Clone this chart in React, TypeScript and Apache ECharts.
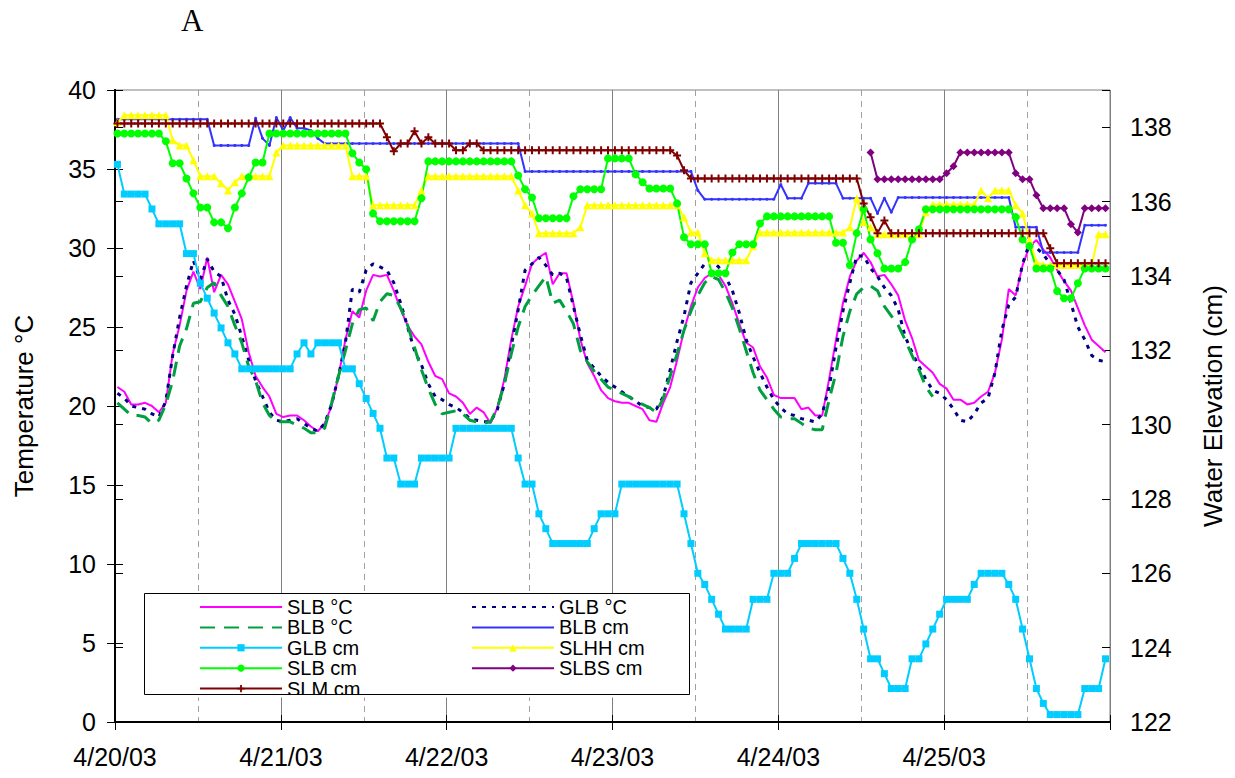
import React, { useEffect, useRef } from 'react';
import * as echarts from 'echarts';

// ---------- data (hourly readings starting 4/20/03 00:00) ----------
const dayLabels = ['4/20/03', '4/21/03', '4/22/03', '4/23/03', '4/24/03', '4/25/03'];
const tempTicks = [0, 5, 10, 15, 20, 25, 30, 35, 40];
const elevTicks = [122, 124, 126, 128, 130, 132, 134, 136, 138];
const HOUR_OFFSET = 0.35; // loggers record a little after the hour

// temperatures (°C)
const slbTemp = [
  21.2, 20.9, 20.1, 20.1, 20.2, 20.0, 19.6, 20.2, 23.3, 25.1, 27.3, 28.5,
  27.4, 29.4, 27.2, 28.3, 27.7, 26.6, 25.5, 23.4, 21.9, 21.2, 20.6, 19.5,
  19.3, 19.4, 19.4, 19.1, 18.7, 18.4, 18.9, 20.0, 21.9, 24.2, 26.0, 25.6,
  27.3, 28.3, 28.2, 28.3, 27.3, 26.1, 25.1, 24.4, 23.9, 22.8, 21.9, 21.7,
  20.8, 20.6, 20.2, 19.5, 19.9, 19.6, 18.9, 19.9, 21.7, 24.2, 26.3, 27.6,
  29.0, 29.4, 29.7, 27.7, 28.4, 28.4, 26.5, 24.2, 22.7, 21.9, 21.0, 20.5,
  20.3, 20.2, 20.2, 20.0, 19.8, 19.1, 19.0, 20.2, 21.2, 22.9, 24.8, 26.3,
  27.5, 28.1, 28.4, 28.3, 27.6, 26.5, 25.2, 24.0, 23.7, 22.5, 21.8, 20.7,
  20.5, 20.5, 20.5, 19.8, 19.9, 19.4, 19.4, 21.7, 24.2, 26.5, 28.2, 29.2,
  29.7, 29.1, 28.2, 28.3, 27.7, 27.0, 25.4, 24.3, 22.9, 22.5, 22.1, 21.4,
  21.1, 20.4, 20.4, 20.1, 20.2, 20.6, 20.9, 22.1, 24.2, 27.4, 27.0, 28.9,
  30.1, 30.5, 29.9, 29.4, 28.6, 27.9, 27.3, 26.2, 25.1, 24.2, 23.8, 23.4,
];
const glbTemp = [
  20.8, 20.5, 20.0, 19.9, 19.8, 19.5, 19.3, 20.3, 23.2, 25.6, 27.6, 29.2,
  28.0, 29.3, 28.5, 28.2, 26.7, 25.8, 24.4, 22.9, 21.6, 20.6, 19.6, 19.1,
  19.0, 19.1, 19.2, 18.9, 18.6, 18.4, 18.9, 20.1, 21.9, 24.0, 27.4, 27.2,
  28.6, 29.0, 28.8, 28.6, 27.8, 26.5, 25.0, 23.5, 22.6, 21.4, 20.6, 20.4,
  20.1, 19.9, 19.6, 19.2, 19.1, 19.0, 19.0, 19.8, 21.4, 23.8, 26.1, 28.6,
  29.0, 29.4, 28.9, 28.3, 28.4, 28.1, 26.3, 24.5, 22.9, 22.4, 21.9, 21.5,
  21.2, 20.9, 20.6, 20.3, 20.0, 19.9, 19.8, 20.6, 22.3, 24.1, 25.7, 27.8,
  28.4, 29.0, 29.2, 28.8, 28.2, 27.3, 25.9, 24.2, 23.1, 22.1, 21.2, 20.4,
  19.9, 19.5, 19.4, 19.2, 19.1, 19.0, 19.5, 21.2, 23.7, 26.0, 27.8, 29.5,
  29.5, 28.7, 28.2, 27.5, 27.0, 26.1, 24.4, 23.4, 22.5, 21.7, 21.0, 20.8,
  20.4, 19.8, 19.1, 19.0, 19.5, 20.2, 20.5, 22.1, 24.8, 26.4, 26.9, 29.0,
  30.3, 30.0, 29.6, 29.0, 28.6, 28.0, 26.5, 25.0, 24.2, 23.2, 22.9, 22.8,
];
const blbTemp = [
  20.2, 19.8, 19.4, 19.4, 19.3, 18.9, 19.1, 20.1, 21.6, 23.8, 24.9, 26.5,
  26.6, 27.5, 27.8, 27.0, 26.3, 25.1, 24.0, 22.5, 21.6, 20.2, 19.4, 19.0,
  19.0, 19.0, 18.8, 18.6, 18.3, 18.3, 18.6, 20.2, 21.9, 23.5, 25.2, 26.1,
  26.2, 25.4, 26.6, 27.1, 27.0, 26.2, 25.1, 23.7, 22.3, 21.1, 20.1, 19.5,
  19.6, 19.7, 19.5, 19.1, 19.0, 18.9, 19.0, 19.9, 21.4, 23.3, 25.0, 26.3,
  27.0, 27.6, 28.2, 26.5, 26.7, 26.0, 25.2, 23.5, 22.8, 22.2, 21.7, 21.2,
  21.0, 20.8, 20.6, 20.3, 20.1, 19.9, 19.6, 20.5, 21.9, 23.3, 24.8, 26.0,
  27.0, 27.8, 28.2, 28.0, 27.2, 26.2, 24.9, 23.5, 22.1, 21.0, 20.4, 19.8,
  19.3, 19.2, 19.2, 18.9, 18.6, 18.5, 18.5, 20.4, 22.1, 24.4, 26.0, 27.1,
  27.5, 27.6, 27.3, 26.3, 25.7, 25.1, 24.2, 23.2, 22.3, 21.2, 20.6,
];

// water elevations (cm)
const blbElev = [
  138.21, 138.21, 138.21, 138.21, 138.21, 138.21, 138.21, 138.21, 138.21, 138.21, 138.21, 138.21,
  138.21, 138.21, 137.51, 137.51, 137.51, 137.51, 137.51, 137.51, 138.24, 137.70, 137.51, 138.26,
  137.91, 138.26, 137.97, 137.97, 137.91, 137.70, 137.56, 137.56, 137.56, 137.56, 137.56, 137.56,
  137.56, 137.56, 137.56, 137.56, 137.56, 137.56, 137.56, 137.56, 137.56, 137.56, 137.56, 137.56,
  137.56, 137.56, 137.56, 137.56, 137.56, 137.56, 137.56, 137.56, 137.56, 137.56, 137.56, 136.81,
  136.81, 136.81, 136.81, 136.81, 136.81, 136.81, 136.81, 136.81, 136.81, 136.81, 136.81, 136.81,
  136.81, 136.81, 136.81, 136.81, 136.81, 136.81, 136.81, 136.81, 136.81, 136.81, 136.81, 136.81,
  136.30, 136.06, 136.06, 136.06, 136.06, 136.06, 136.06, 136.06, 136.06, 136.06, 136.06, 136.06,
  136.46, 136.09, 136.09, 136.09, 136.49, 136.49, 136.49, 136.49, 136.49, 136.09, 136.09, 136.09,
  136.09, 136.09, 135.68, 136.09, 135.71, 136.11, 136.11, 136.11, 136.11, 136.11, 136.11, 136.11,
  136.11, 136.11, 136.11, 136.11, 136.11, 136.11, 136.11, 136.11, 136.11, 136.11, 135.31, 135.31,
  135.31, 135.31, 134.63, 134.63, 134.63, 134.63, 134.63, 134.63, 135.36, 135.36, 135.36, 135.36,
];
const glbElev = [
  137.0, 136.2, 136.2, 136.2, 136.2, 135.8, 135.4, 135.4, 135.4, 135.4, 134.6, 134.6,
  133.8, 133.4, 133.0, 132.6, 132.2, 131.9, 131.5, 131.5, 131.5, 131.5, 131.5, 131.5,
  131.5, 131.5, 131.9, 132.2, 131.9, 132.2, 132.2, 132.2, 132.2, 131.5, 131.5, 131.1,
  130.7, 130.3, 129.9, 129.1, 129.1, 128.4, 128.4, 128.4, 129.1, 129.1, 129.1, 129.1,
  129.1, 129.9, 129.9, 129.9, 129.9, 129.9, 129.9, 129.9, 129.9, 129.9, 129.1, 128.4,
  128.4, 127.6, 127.2, 126.8, 126.8, 126.8, 126.8, 126.8, 126.8, 127.2, 127.6, 127.6,
  127.6, 128.4, 128.4, 128.4, 128.4, 128.4, 128.4, 128.4, 128.4, 128.4, 127.6, 126.8,
  126.0, 125.7, 125.3, 124.9, 124.5, 124.5, 124.5, 124.5, 125.3, 125.3, 125.3, 126.0,
  126.0, 126.0, 126.4, 126.8, 126.8, 126.8, 126.8, 126.8, 126.8, 126.4, 126.0, 125.3,
  124.5, 123.7, 123.7, 123.3, 122.9, 122.9, 122.9, 123.7, 123.7, 124.1, 124.5, 124.9,
  125.3, 125.3, 125.3, 125.3, 125.7, 126.0, 126.0, 126.0, 126.0, 125.7, 125.3, 124.5,
  123.7, 122.9, 122.5, 122.2, 122.2, 122.2, 122.2, 122.2, 122.9, 122.9, 122.9, 123.7,
];
const slhhElev = [
  138.13, 138.32, 138.32, 138.32, 138.32, 138.32, 138.32, 138.32, 137.65, 137.51, 137.51, 137.11,
  136.68, 136.68, 136.68, 136.49, 136.30, 136.52, 136.68, 136.68, 136.68, 136.68, 136.68, 137.32,
  137.51, 137.51, 137.51, 137.51, 137.51, 137.51, 137.51, 137.51, 137.51, 137.51, 136.68, 136.68,
  136.68, 135.90, 135.90, 135.90, 135.90, 135.90, 135.90, 135.90, 136.30, 136.68, 136.68, 136.68,
  136.68, 136.68, 136.68, 136.68, 136.68, 136.68, 136.68, 136.68, 136.68, 136.68, 136.30, 135.90,
  135.68, 135.15, 135.15, 135.15, 135.15, 135.15, 135.15, 135.31, 135.90, 135.90, 135.90, 135.90,
  135.90, 135.90, 135.90, 135.90, 135.90, 135.90, 135.90, 135.90, 135.90, 135.90, 135.58, 135.17,
  135.17, 134.61, 134.42, 134.42, 134.42, 134.42, 134.42, 134.42, 134.80, 135.17, 135.17, 135.17,
  135.17, 135.17, 135.17, 135.17, 135.17, 135.17, 135.17, 135.17, 135.17, 135.17, 135.31, 136.09,
  135.44, 135.31, 135.12, 135.12, 135.12, 135.12, 135.12, 135.12, 135.12, 135.71, 135.92, 135.92,
  135.92, 135.92, 135.92, 135.92, 135.92, 136.30, 136.09, 136.30, 136.30, 136.30, 135.90, 135.68,
  134.96, 134.37, 134.29, 134.29, 134.29, 134.29, 134.29, 134.29, 134.29, 134.29, 135.12, 135.12,
];
const slbElev = [
  137.83, 137.83, 137.83, 137.83, 137.83, 137.83, 137.83, 137.62, 137.03, 137.03, 136.62, 136.22,
  135.84, 135.84, 135.44, 135.44, 135.28, 135.84, 136.22, 136.65, 137.05, 137.05, 137.83, 137.83,
  137.83, 137.83, 137.83, 137.83, 137.83, 137.83, 137.83, 137.83, 137.83, 137.83, 137.30, 137.05,
  136.87, 135.68, 135.47, 135.47, 135.47, 135.47, 135.47, 135.47, 136.09, 137.08, 137.08, 137.08,
  137.08, 137.08, 137.08, 137.08, 137.08, 137.08, 137.08, 137.08, 137.08, 137.08, 136.70, 136.33,
  136.11, 135.55, 135.55, 135.55, 135.55, 135.55, 136.14, 136.33, 136.33, 136.33, 136.33, 137.16,
  137.16, 137.16, 137.16, 136.73, 136.52, 136.35, 136.35, 136.35, 136.35, 135.95, 135.04, 134.85,
  134.85, 134.85, 134.07, 134.07, 134.07, 134.63, 134.85, 134.85, 134.85, 135.41, 135.60, 135.60,
  135.60, 135.60, 135.60, 135.60, 135.60, 135.60, 135.60, 135.60, 134.89, 134.89, 134.29, 135.15,
  135.79, 134.98, 134.61, 134.20, 134.20, 134.20, 134.37, 134.98, 135.25, 135.79, 135.79, 135.79,
  135.79, 135.79, 135.79, 135.79, 135.79, 135.79, 135.79, 135.79, 135.79, 135.79, 135.58, 134.98,
  134.80, 134.20, 134.20, 134.20, 133.59, 133.40, 133.40, 133.80, 134.20, 134.20, 134.20, 134.20,
];
const SLBS_START_HOUR = 109;
const slbsElev = [
  137.32, 136.60, 136.60, 136.60, 136.60, 136.60, 136.60, 136.60, 136.60, 136.60, 136.60,
  136.76, 136.95, 137.32, 137.32, 137.32, 137.32, 137.32, 137.32, 137.32, 137.32, 136.76, 136.60,
  136.60, 136.17, 135.82, 135.82, 135.82, 135.82, 135.39, 135.17, 135.82, 135.82, 135.82, 135.82,
];
const slmElev = [
  138.10, 138.10, 138.10, 138.10, 138.10, 138.10, 138.10, 138.10, 138.10, 138.10, 138.10, 138.10,
  138.10, 138.10, 138.10, 138.10, 138.10, 138.10, 138.10, 138.10, 138.10, 138.10, 138.10, 138.10,
  138.10, 138.10, 138.10, 138.10, 138.10, 138.10, 138.10, 138.10, 138.10, 138.10, 138.10, 138.10,
  138.10, 138.10, 138.10, 137.73, 137.35, 137.56, 137.56, 137.89, 137.56, 137.73, 137.56, 137.56,
  137.56, 137.38, 137.38, 137.56, 137.56, 137.38, 137.38, 137.38, 137.38, 137.38, 137.38, 137.38,
  137.38, 137.38, 137.38, 137.38, 137.38, 137.38, 137.38, 137.38, 137.38, 137.38, 137.38, 137.38,
  137.38, 137.38, 137.38, 137.38, 137.38, 137.38, 137.38, 137.38, 137.38, 137.24, 136.84, 136.62,
  136.62, 136.62, 136.62, 136.62, 136.62, 136.62, 136.62, 136.62, 136.62, 136.62, 136.62, 136.62,
  136.62, 136.62, 136.62, 136.62, 136.62, 136.62, 136.62, 136.62, 136.62, 136.62, 136.62, 136.62,
  135.95, 135.58, 135.15, 135.49, 135.15, 135.15, 135.15, 135.15, 135.15, 135.15, 135.15, 135.15,
  135.15, 135.15, 135.15, 135.15, 135.15, 135.15, 135.15, 135.15, 135.15, 135.15, 135.15, 135.15,
  135.15, 135.15, 135.15, 134.74, 134.34, 134.34, 134.34, 134.34, 134.34, 134.34, 134.34, 134.34,
];

const legendCol1 = ['SLB °C', 'BLB °C', 'GLB cm', 'SLB cm', 'SLM cm'];
const legendCol2 = ['GLB °C', 'BLB cm', 'SLHH cm', 'SLBS cm'];
const plainLegendLines = ['SLB °C', 'BLB °C', 'GLB °C', 'BLB cm'];

// ---------- helpers ----------
const toPoints = (vals: number[], startHour = 0) =>
  vals.map((v, i) => [startHour + i + HOUR_OFFSET, v]);

const FONT = 'Liberation Sans, Arial, sans-serif';
const PLUS = 'path://M3,0 H5 V3 H8 V5 H5 V8 H3 V5 H0 V3 H3 Z';
const TICK_FS = 25;
const NAME_FS = 26;

export default function App() {
  const ref = useRef<HTMLDivElement>(null);

  useEffect(() => {
    if (!ref.current) return;
    const chart = echarts.init(ref.current, undefined, { renderer: 'svg' });

    const lineSeries = (
      name: string,
      data: number[][],
      yAxisIndex: number,
      color: string,
      opts: any = {}
    ) => ({
      name,
      type: 'line',
      data,
      yAxisIndex,
      xAxisIndex: 0,
      showSymbol: opts.symbol ? true : false,
      symbol: opts.symbol || 'none',
      symbolSize: opts.symbolSize || 6,
      itemStyle: { color },
      lineStyle: { color, width: opts.width || 2, type: opts.dash || 'solid' },
      emphasis: { disabled: true },
      silent: true,
    });

    const legendItems = (names: string[]) =>
      names.map((n) =>
        plainLegendLines.indexOf(n) >= 0 ? { name: n, itemStyle: { opacity: 0 } } : { name: n }
      );

    const legendBase = {
      orient: 'vertical',
      top: 592,
      itemWidth: 82,
      itemHeight: 9,
      itemGap: 0.4,
      selectedMode: false,
      textStyle: { fontFamily: FONT, fontSize: 20, color: '#000', lineHeight: 20 },
    };

    const dayMax = dayLabels.length * 24;

    const option: any = {
      animation: false,
      backgroundColor: '#ffffff',
      title: {
        text: 'A',
        left: 176,
        top: 0,
        textStyle: { fontFamily: 'Liberation Serif, Times New Roman, serif', fontSize: 31, fontWeight: 'normal', color: '#000' },
      },
      grid: {
        left: 115,
        right: 125,
        top: 90,
        bottom: 56,
        show: true,
        borderColor: '#808080',
        borderWidth: 1,
        backgroundColor: 'transparent',
      },
      xAxis: [
        {
          type: 'value',
          position: 'bottom',
          min: 0,
          max: dayMax,
          interval: 24,
          axisLine: { show: true, onZero: false, lineStyle: { color: '#000', width: 2 } },
          axisTick: { show: true, length: 8, lineStyle: { color: '#000', width: 1 } },
          minorTick: { show: false, splitNumber: 2 },
          minorSplitLine: { show: true, lineStyle: { color: '#a0a0a0', width: 1, type: [6, 5] } },
          splitLine: { show: true, lineStyle: { color: '#808080', width: 1 } },
          axisLabel: {
            fontFamily: FONT,
            fontSize: TICK_FS,
            color: '#000',
            margin: 22,
            formatter: (v: number) => dayLabels[Math.round(v / 24)] || '',
          },
        },
        {
          // inner half of the crossing tick marks
          type: 'value',
          position: 'bottom',
          min: 0,
          max: dayMax,
          interval: 24,
          axisLine: { show: false, onZero: false },
          axisTick: { show: true, inside: true, length: 7, lineStyle: { color: '#000', width: 1 } },
          axisLabel: { show: false },
          splitLine: { show: false },
        },
      ],
      yAxis: [
        {
          type: 'value',
          position: 'left',
          min: tempTicks[0],
          max: tempTicks[tempTicks.length - 1],
          interval: 5,
          name: 'Temperature °C',
          nameLocation: 'middle',
          nameGap: 78,
          nameTextStyle: { fontFamily: FONT, fontSize: NAME_FS, color: '#000' },
          axisLine: { show: true, lineStyle: { color: '#000', width: 2 } },
          axisTick: { show: true, length: 8, lineStyle: { color: '#000' } },
          axisLabel: { fontFamily: FONT, fontSize: TICK_FS, color: '#000', margin: 19 },
          splitLine: { show: false },
        },
        {
          type: 'value',
          position: 'right',
          min: elevTicks[0],
          max: 139,
          interval: 2,
          name: 'Water Elevation (cm)',
          nameLocation: 'middle',
          nameGap: 90,
          nameTextStyle: { fontFamily: FONT, fontSize: NAME_FS, color: '#000' },
          axisLine: { show: true, lineStyle: { color: '#000', width: 2 } },
          axisTick: { show: true, length: 8, lineStyle: { color: '#000' } },
          axisLabel: {
            fontFamily: FONT,
            fontSize: TICK_FS,
            color: '#000',
            margin: 20,
            showMaxLabel: false,
            formatter: (v: number) => (elevTicks.indexOf(v) >= 0 ? String(v) : ''),
          },
          splitLine: { show: false },
        },
        {
          type: 'value',
          position: 'left',
          min: tempTicks[0],
          max: tempTicks[tempTicks.length - 1],
          interval: 5,
          axisLine: { show: false },
          axisTick: { show: true, inside: true, length: 8, lineStyle: { color: '#000' } },
          axisLabel: { show: false },
          splitLine: { show: false },
        },
        {
          type: 'value',
          position: 'right',
          min: elevTicks[0],
          max: 139,
          interval: 2,
          axisLine: { show: false },
          axisTick: { show: true, inside: true, length: 8, lineStyle: { color: '#000' } },
          axisLabel: { show: false },
          splitLine: { show: false },
        },
      ],
      legend: [
        { ...legendBase, left: 194, data: legendItems(legendCol1) },
        { ...legendBase, left: 466, data: legendItems(legendCol2) },
      ],
      graphic: [
        {
          type: 'rect',
          z: 3,
          shape: { x: 144, y: 593, width: 545, height: 101 },
          style: { fill: '#fff', stroke: 'none' },
          silent: true,
        },
        {
          type: 'rect',
          z: 50,
          shape: { x: 143, y: 694.5, width: 547, height: 3 },
          style: { fill: '#fff', stroke: 'none' },
          silent: true,
        },
        {
          type: 'rect',
          z: 51,
          shape: { x: 144.5, y: 593.5, width: 545, height: 101 },
          style: { fill: 'none', stroke: '#000', lineWidth: 1 },
          silent: true,
        },
      ],
      series: [
        lineSeries('SLB °C', toPoints(slbTemp), 0, '#ff00ff', { width: 2 }),
        lineSeries('GLB °C', toPoints(glbTemp), 0, '#000080', { width: 3, dash: [4, 6] }),
        lineSeries('BLB °C', toPoints(blbTemp), 0, '#00a040', { width: 3, dash: [15, 9] }),
        lineSeries('BLB cm', toPoints(blbElev), 1, '#3333ff', { symbol: 'circle', symbolSize: 3 }),
        lineSeries('GLB cm', toPoints(glbElev), 1, '#00ccff', { symbol: 'rect', symbolSize: 7 }),
        lineSeries('SLHH cm', toPoints(slhhElev), 1, '#ffff00', { symbol: 'triangle', symbolSize: 8 }),
        lineSeries('SLB cm', toPoints(slbElev), 1, '#00ff00', { symbol: 'circle', symbolSize: 8 }),
        lineSeries('SLBS cm', toPoints(slbsElev, SLBS_START_HOUR), 1, '#800080', { symbol: 'diamond', symbolSize: 8 }),
        lineSeries('SLM cm', toPoints(slmElev), 1, '#800000', { symbol: PLUS, symbolSize: 8 }),
      ],
    };

    chart.setOption(option);
    return () => chart.dispose();
  }, []);

  return <div ref={ref} style={{ width: 1235, height: 778, margin: -8 }} />;
}
